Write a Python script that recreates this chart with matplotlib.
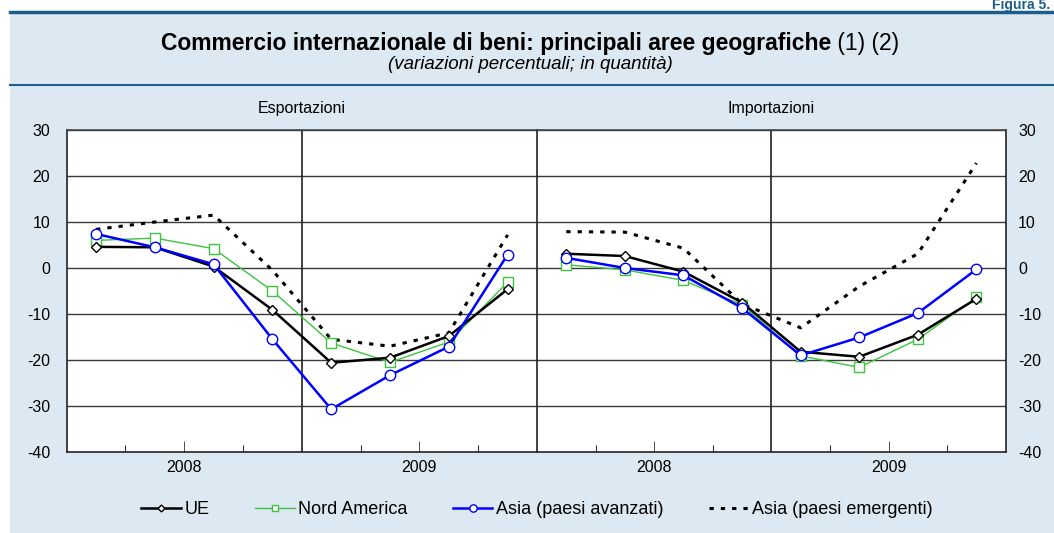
import numpy as np
import matplotlib.pyplot as plt
from matplotlib.patches import Rectangle
from matplotlib.lines import Line2D

plt.rcParams['font.family'] = ['Liberation Sans', 'DejaVu Sans']
plt.rcParams['axes.unicode_minus'] = False

quarters = np.arange(8) + 0.5
years = ['2008', '2009']
panels = ['Esportazioni', 'Importazioni']
series = ['UE', 'Nord America', 'Asia (paesi avanzati)', 'Asia (paesi emergenti)']

exp_ue = [4.6, 4.5, 0.3, -9.1, -20.6, -19.5, -14.8, -4.6]
exp_na = [6.0, 6.5, 4.2, -5.0, -16.3, -20.5, -16.1, -3.1]
exp_asia_adv = [7.4, 4.5, 0.8, -15.5, -30.7, -23.3, -17.1, 2.9]
exp_asia_em = [8.4, 10.0, 11.5, -0.5, -15.5, -17.0, -14.1, 7.2]

imp_ue = [3.1, 2.6, -0.8, -7.5, -18.2, -19.3, -14.5, -6.7]
imp_na = [0.7, -0.4, -2.7, -8.0, -19.1, -21.6, -15.5, -6.4]
imp_asia_adv = [2.2, 0.0, -1.6, -8.7, -19.0, -15.1, -9.8, -0.3]
imp_asia_em = [7.9, 7.8, 4.3, -7.8, -13.0, -4.0, 3.1, 22.8]

W, H = 1054, 533
fig = plt.figure(figsize=(W / 100, H / 100), dpi=100)
fig.patch.set_facecolor('white')

bg = '#dde9f2'
dark_blue = '#1b5e8c'
fig.patches.append(Rectangle((10 / W, 0), 1, 1 - 12 / H, transform=fig.transFigure,
                             facecolor=bg, edgecolor='none', zorder=-5))
fig.add_artist(Line2D([10 / W, 1], [1 - 12 / H] * 2, color=dark_blue, lw=2.5))
fig.add_artist(Line2D([10 / W, 1], [1 - 85 / H] * 2, color=dark_blue, lw=1.5))
fig.text(1050 / W, 1 - 9 / H, 'Figura 5.', color=dark_blue, fontsize=10,
         fontweight='bold', ha='right', va='baseline')

# title: bold part + regular notes, centred as a whole
renderer = fig.canvas.get_renderer()
t1 = fig.text(0, 1 - 43 / H, 'Commercio internazionale di beni: principali aree geografiche',
              fontsize=16.5, fontweight='bold', ha='left', va='center')
t2 = fig.text(0, 1 - 43 / H, ' (1) (2)', fontsize=16.5, ha='left', va='center')
w1 = t1.get_window_extent(renderer).width
w2 = t2.get_window_extent(renderer).width
x0 = 530 - (w1 + w2) / 2
t1.set_x(x0 / W)
t2.set_x((x0 + w1) / W)
fig.text(530 / W, 1 - 64 / H, '(variazioni percentuali; in quantità)', fontsize=13.5,
         style='italic', ha='center', va='center')

bottom = 1 - 452 / H
height = 322 / H
ax1 = fig.add_axes([66.7 / W, bottom, 470.3 / W, height])
ax2 = fig.add_axes([537 / W, bottom, 468.7 / W, height])

data = [(exp_ue, exp_na, exp_asia_adv, exp_asia_em),
        (imp_ue, imp_na, imp_asia_adv, imp_asia_em)]

for i, ax in enumerate([ax1, ax2]):
    ue, na, adv, em = data[i]
    ax.set_facecolor('white')
    ax.set_xlim(0, 8)
    ax.set_ylim(-40, 30)
    ax.set_yticks(range(-40, 31, 10))
    for v in range(-30, 31, 10):
        ax.axhline(v, color='#3a3a3a', lw=1, zorder=1)
    ax.axvline(4, color='#222222', lw=1.2, zorder=1)

    ax.plot(quarters, em, color='black', lw=2.2, ls=(0, (1.4, 2.3)), zorder=3,
            label=series[3])
    ax.plot(quarters, na, color='#3ec43e', lw=1, marker='s', ms=7,
            mfc='white', mec='#3ec43e', mew=1, zorder=4, label=series[1])
    ax.plot(quarters, ue, color='black', lw=1.8, marker='D', ms=5,
            mfc='white', mec='black', mew=1, zorder=5, label=series[0])
    ax.plot(quarters, adv, color='#0000ff', lw=1.8, marker='o', ms=7.5,
            mfc='white', mec='#0000ff', mew=1, zorder=6, label=series[2])

    # quarter ticks, longer at mid-year
    ax.set_xticks([1, 3, 5, 7])
    ax.set_xticks([2, 6], minor=True)
    ax.tick_params(axis='x', which='major', direction='in', length=5, labelbottom=False,
                   color='#333333')
    ax.tick_params(axis='x', which='minor', direction='in', length=8, labelbottom=False,
                   color='#333333')
    for k, yr in enumerate(years):
        ax.text(2 + 4 * k, -41.8, yr, ha='center', va='top', fontsize=11.5,
                transform=ax.transData)
    ax.set_title(panels[i], fontsize=11.5, pad=12)

    for s in ax.spines.values():
        s.set_color('#222222')
        s.set_linewidth(1.2)
    ax.spines['top'].set_color('#444444')

ax1.tick_params(axis='y', length=0, labelsize=11.5, pad=12)
ax2.tick_params(axis='y', length=0, left=False, labelleft=False, right=True,
                labelright=True, labelsize=11.5, pad=9)
ax1.spines['right'].set_visible(False)

handles, labels = ax1.get_legend_handles_labels()
order = [2, 1, 3, 0]
fig.legend([handles[j] for j in order], [labels[j] for j in order], loc='center',
           bbox_to_anchor=(537 / W, 1 - 510 / H), ncol=4, frameon=False, fontsize=13,
           handlelength=2.2, handletextpad=0.2, columnspacing=2.5, markerscale=0.7)

fig.savefig('out.png', dpi=100, facecolor='white')
